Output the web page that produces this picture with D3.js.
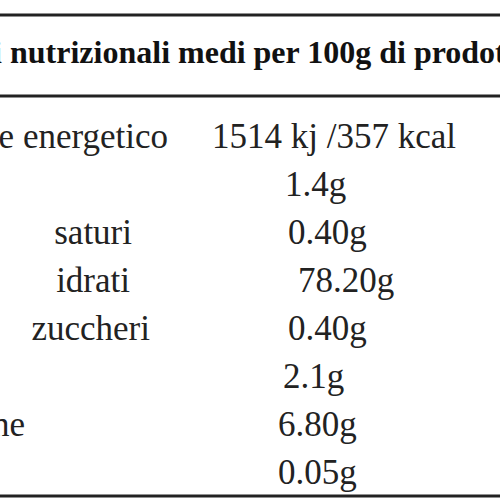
<!DOCTYPE html>
<html><head><meta charset="utf-8">
<script src="https://cdn.jsdelivr.net/npm/d3@7"></script>
<style>body{margin:0;background:#fff}</style></head>
<body><svg id="t" width="500" height="500"></svg>
<script>
var titolo = "Valori nutrizionali medi per 100g di prodotto";
var voci = ["Valore energetico", "", "saturi", "idrati", "zuccheri", "", "Proteine", ""];
var valori = ["1514 kj /357 kcal", "1.4g", "0.40g", "78.20g", "0.40g", "2.1g", "6.80g", "0.05g"];
var fineVoce = [168, 0, 132, 130, 150, 0, 25, 0];
var inizioValore = [212, 285, 288, 298, 288, 283, 278, 278];

var svg = d3.select("#t");
var y = d3.scaleBand().domain(d3.range(voci.length)).range([104, 488]);
var font = "'Liberation Serif','Times New Roman',serif";

// linee orizzontali
[15, 96, 496].forEach(function(l) {
	svg.append("line").attr("x1", 0).attr("x2", 500).attr("y1", l).attr("y2", l)
		.attr("stroke", "#222").attr("stroke-width", 3);
});

// intestazione
var pre = svg.append("text").attr("font-family", font).attr("font-size", 32).attr("font-weight", "bold")
	.attr("visibility", "hidden").text("Valori ");
var w = pre.node().getComputedTextLength();
pre.remove();
svg.append("text").attr("x", 2 - w).attr("y", 63).attr("font-family", font).attr("font-size", 32)
	.attr("font-weight", "bold").attr("fill", "#111").text(titolo);

var righe = svg.selectAll("g.riga").data(voci).enter().append("g").attr("class", "riga");
righe.append("text").attr("x", function(d, i) { return fineVoce[i]; })
	.attr("y", function(d, i) { return y(i) + 44; })
	.attr("text-anchor", "end").attr("font-family", font).attr("font-size", 35).attr("fill", "#222")
	.text(function(d) { return d; });
righe.append("text").attr("x", function(d, i) { return inizioValore[i]; })
	.attr("y", function(d, i) { return y(i) + 44; })
	.attr("font-family", font).attr("font-size", 35).attr("fill", "#222")
	.text(function(d, i) { return valori[i]; });
</script></body></html>
